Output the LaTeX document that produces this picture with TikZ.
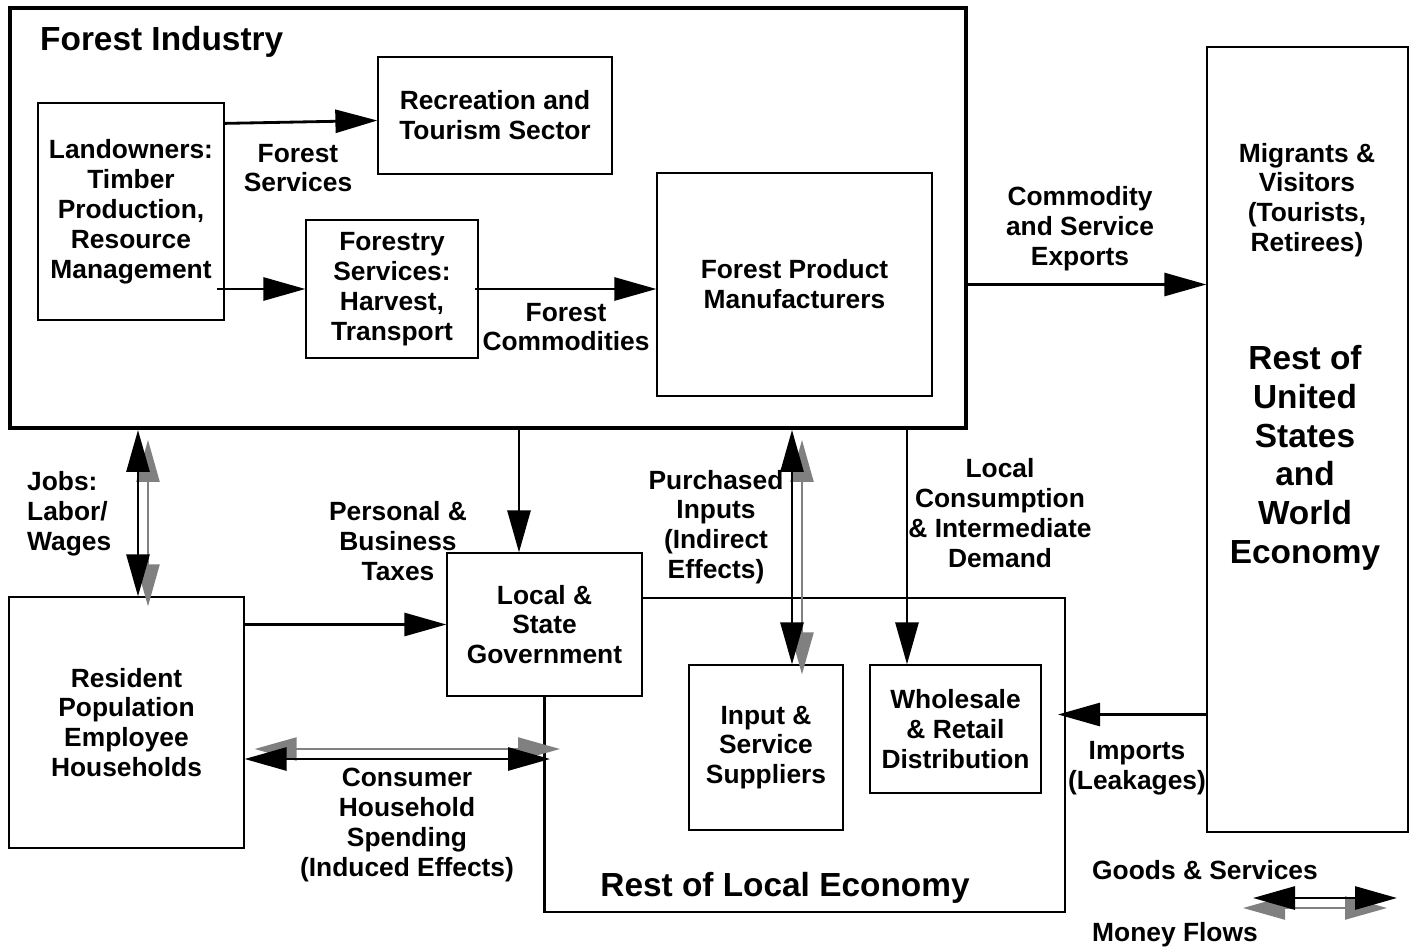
\documentclass[tikz,border=0pt]{standalone}
\usepackage{fontspec}
\setmainfont{Liberation Sans}
\usetikzlibrary{arrows.meta,calc}

\tikzset{
  sector/.style={draw, line width=0.7pt, align=center, inner sep=0pt, font=\bfseries\fontsize{15}{17}\selectfont},
  lbl/.style={align=center, font=\bfseries\fontsize{15}{17}\selectfont},
  biglbl/.style={align=center, font=\bfseries\fontsize{19}{22}\selectfont},
  flow/.style={-{Triangle[length=0.84cm,width=0.46cm]}, line width=1.6pt},
  both/.style={{Triangle[length=0.84cm,width=0.46cm]}-{Triangle[length=0.84cm,width=0.46cm]}, line width=1.6pt},
  money/.style={both, draw=black!50, fill=black!50, line width=1.3pt},
}

\begin{document}
\begin{tikzpicture}
  \useasboundingbox (0,0) rectangle (28.28,-19.02);

  % Forest industry frame
  \node[draw, line width=2.2pt, minimum width=19.12cm, minimum height=8.4cm] (forest) at (9.76,-4.36) {};
  \node[biglbl, anchor=west] (forest-title) at (0.68,-0.84) {Forest Industry};

  % Sectors inside the forest industry
  \node[sector, minimum width=3.72cm, minimum height=4.34cm] (land) at (2.62,-4.23) {Landowners:\\Timber\\Production,\\Resource\\Management};
  \node[sector, minimum width=4.68cm, minimum height=2.34cm] (recreation) at (9.9,-2.31) {Recreation and\\Tourism Sector};
  \node[sector, minimum width=3.44cm, minimum height=2.76cm] (forestry) at (7.84,-5.78) {Forestry\\Services:\\Harvest,\\Transport};
  \node[sector, minimum width=5.5cm, minimum height=4.46cm] (fpm) at (15.89,-5.69) {Forest Product\\Manufacturers};

  \node[lbl] (services-lbl) at (5.96,-3.36) {Forest\\Services};
  \node[lbl] (commodities-lbl) at (11.32,-6.54) {Forest\\Commodities};

  \draw[flow] ($(land.north east)+(0,-0.42)$) -- ($(recreation.west)+(0,-0.1)$);
  \draw[flow] ($(land.east |- forestry.west)+(-0.16,0)$) -- (forestry.west);
  \draw[flow] ($(forestry.east)+(-0.08,0)$) -- (forestry.east -| fpm.west);

  % Rest of the nation and the world
  \node[sector, minimum width=4.02cm, minimum height=15.7cm] (usa) at (26.15,-8.79) {};
  \node[lbl] (migrants) at (26.14,-4.0) {Migrants \&\\Visitors\\(Tourists,\\Retirees)};
  \node[biglbl] (world) at (26.1,-9.16) {Rest of\\United\\States\\and\\World\\Economy};

  \node[lbl] (exports-lbl) at (21.6,-4.58) {Commodity\\and Service\\Exports};
  \draw[flow] (forest.east |- fpm.west) -- (usa.west |- fpm.west);

  % Local households and government
  \node[sector, minimum width=4.7cm, minimum height=5.02cm] (resident) at (2.53,-14.45) {Resident\\Population\\Employee\\Households};
  \node[sector, minimum width=3.9cm, minimum height=2.86cm] (gov) at (10.89,-12.49) {Local \&\\State\\Government};

  % Rest of local economy outline
  \draw[line width=1.4pt] (gov.south) -- (gov.south |- 0,-18.24) -- (21.3,-18.24) -- (21.3,-11.96) -- (gov.east |- 0,-11.96);
  \node[biglbl] (economy-lbl) at (15.7,-17.76) {Rest of Local Economy};

  \node[sector, minimum width=3.08cm, minimum height=3.3cm] (input) at (15.32,-14.95) {Input \&\\Service\\Suppliers};
  \node[sector, minimum width=3.42cm, minimum height=2.56cm] (retail) at (19.11,-14.58) {Wholesale\\\& Retail\\Distribution};

  % Labels of the flows
  \node[lbl, align=left, anchor=west] (jobs-lbl) at (0.42,-10.28) {Jobs:\\Labor/\\Wages};
  \node[lbl] (taxes-lbl) at (7.96,-10.82) {Personal \&\\Business\\Taxes};
  \node[lbl] (inputs-lbl) at (14.32,-10.54) {Purchased\\Inputs\\(Indirect\\Effects)};
  \node[lbl] (demand-lbl) at (20.0,-10.26) {Local\\Consumption\\\& Intermediate\\Demand};
  \node[lbl] (imports-lbl) at (22.74,-15.36) {Imports\\(Leakages)};
  \node[lbl] (spending-lbl) at (8.14,-16.5) {Consumer\\Household\\Spending\\(Induced Effects)};

  % Flow end points
  \coordinate (jobs) at (2.76,0);
  \coordinate (buy) at (15.84,0);
  \coordinate (sell) at (18.14,0);
  \coordinate (taxin) at ($(gov.north)+(-0.51,0)$);
  \coordinate (leak) at (21.16,-14.29);
  \coordinate (spend) at (11.0,-15.18);

  % Money flows sit behind the goods and services
  \draw[money, transform canvas={shift={(0.2,-0.2)}}] (forest.south -| jobs) -- (resident.north -| jobs);
  \draw[money, transform canvas={shift={(0.2,-0.2)}}] (forest.south -| buy) -- (input.north -| buy);
  \draw[money, transform canvas={shift={(0.2,0.2)}}] (resident.east |- spend) -- (spend);

  \draw[both] (forest.south -| jobs) -- (resident.north -| jobs);
  \draw[both] (forest.south -| buy) -- (input.north -| buy);
  \draw[both] (resident.east |- spend) -- (spend);

  \draw[flow] (forest.south -| taxin) -- (taxin);
  \draw[flow] (forest.south -| sell) -- (retail.north -| sell);
  \draw[flow] (resident.east |- gov.west) -- (gov.west);
  \draw[flow] (usa.west |- leak) -- (leak);

  % Legend
  \node[lbl, anchor=west] (goods-key) at (21.72,-17.4) {Goods \& Services};
  \node[lbl, anchor=west] (money-key) at (21.72,-18.7) {Money Flows};
  \coordinate (key-a) at (25.06,-17.96);
  \coordinate (key-b) at (27.94,-17.96);
  \draw[money, transform canvas={shift={(-0.2,-0.2)}}] (key-a) -- (key-b);
  \draw[both] (key-a) -- (key-b);
\end{tikzpicture}
\end{document}
